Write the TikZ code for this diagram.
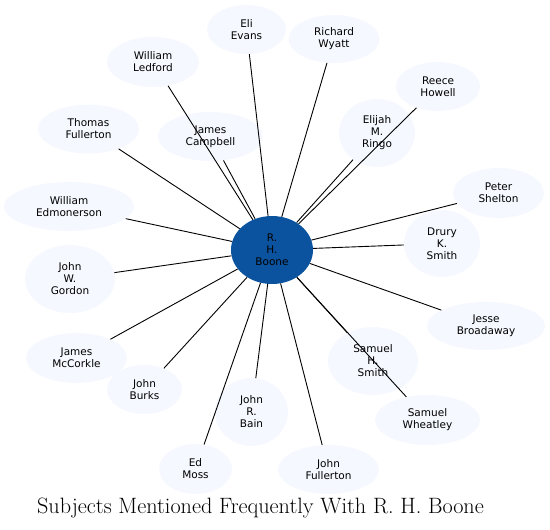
\documentclass[tikz,border=0pt]{standalone}
\usepackage{fontspec}
\newfontfamily\namefont{DejaVu Sans}
\usetikzlibrary{shapes.geometric}

\definecolor{paleblue}{HTML}{F5F8FE}
\definecolor{hubblue}{HTML}{0B539E}

\begin{document}
\begin{tikzpicture}[
      x=1pt,y=-1pt,
      person/.style={ellipse,draw=none,fill=paleblue,inner sep=0pt,
                     align=center,
                     font=\namefont\fontsize{10.5}{12}\selectfont},
      hub/.style={person,fill=hubblue},
      link/.style={draw,line width=0.9pt},
    ]
      \useasboundingbox (0,0) rectangle (550,530);
      \node[hub, minimum width=82pt, minimum height=68pt] (boone) at (272,250) {R.\\H.\\Boone};
      \node[person, minimum width=79pt, minimum height=49pt] (evans) at (246.5,29.5) {Eli\\Evans};
      \node[person, minimum width=91pt, minimum height=48pt] (wyatt) at (334,39) {Richard\\Wyatt};
      \node[person, minimum width=92pt, minimum height=50pt] (ledford) at (153,62) {William\\Ledford};
      \node[person, minimum width=84pt, minimum height=49pt] (howell) at (438,86.5) {Reece\\Howell};
      \node[person, minimum width=101pt, minimum height=49pt] (tfullerton) at (88.5,129) {Thomas\\Fullerton};
      \node[person, minimum width=105pt, minimum height=49pt] (campbell) at (210.5,136.5) {James\\Campbell};
      \node[person, minimum width=76pt, minimum height=68pt] (ringo) at (377,133) {Elijah\\M.\\Ringo};
      \node[person, minimum width=91pt, minimum height=50pt] (shelton) at (498.5,193) {Peter\\Shelton};
      \node[person, minimum width=130pt, minimum height=49pt] (edmonerson) at (69,206.5) {William\\Edmonerson};
      \node[person, minimum width=76pt, minimum height=67pt] (dksmith) at (442,243.5) {Drury\\K.\\Smith};
      \node[person, minimum width=90pt, minimum height=68pt] (gordon) at (70,279) {John\\W.\\Gordon};
      \node[person, minimum width=118pt, minimum height=48pt] (broadway) at (486,326) {Jesse\\Broadaway};
      \node[person, minimum width=101pt, minimum height=50pt] (mccorkle) at (76.5,358) {James\\McCorkle};
      \node[person, minimum width=90pt, minimum height=68pt] (shsmith) at (373,361) {Samuel\\H.\\Smith};
      \node[person, minimum width=75pt, minimum height=49pt] (burks) at (144.5,389.5) {John\\Burks};
      \node[person, minimum width=73pt, minimum height=68pt] (bain) at (251.5,412) {John\\R.\\Bain};
      \node[person, minimum width=105pt, minimum height=50pt] (wheatley) at (427.5,420) {Samuel\\Wheatley};
      \node[person, minimum width=73pt, minimum height=50pt] (moss) at (195.5,469) {Ed\\Moss};
      \node[person, minimum width=101pt, minimum height=49pt] (jfullerton) at (328.5,469.5) {John\\Fullerton};
      \path(boone) edge[link] (evans);
      \path(boone) edge[link] (wyatt);
      \path(boone) edge[link] (ledford);
      \path(boone) edge[link] (howell);
      \path(boone) edge[link] (tfullerton);
      \path(boone) edge[link] (campbell);
      \path(boone) edge[link] (ringo);
      \path(boone) edge[link] (shelton);
      \path(boone) edge[link] (edmonerson);
      \path(boone) edge[link] (dksmith);
      \path(boone) edge[link] (gordon);
      \path(boone) edge[link] (broadway);
      \path(boone) edge[link] (mccorkle);
      \path(boone) edge[link] (shsmith);
      \path(boone) edge[link] (burks);
      \path(boone) edge[link] (bain);
      \path(boone) edge[link] (wheatley);
      \path(boone) edge[link] (moss);
      \path(boone) edge[link] (jfullerton);
      \node[font=\fontsize{22.2}{26}\selectfont] (title) at (260.5,508) {Subjects Mentioned Frequently With R. H. Boone};
    \end{tikzpicture}
\end{document}
